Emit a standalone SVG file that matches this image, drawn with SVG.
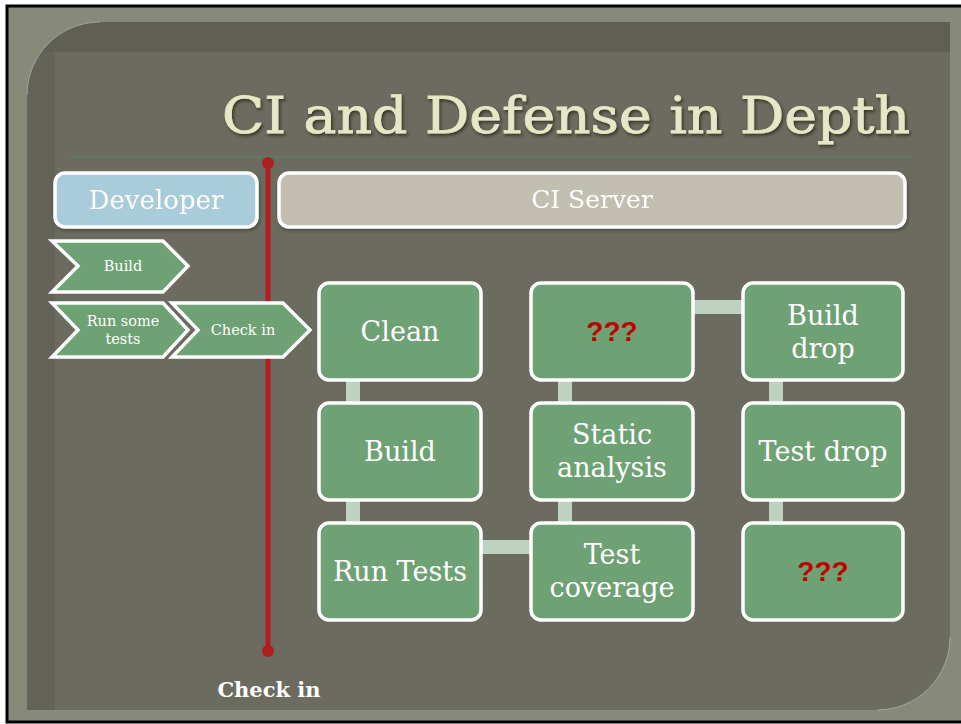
<svg xmlns="http://www.w3.org/2000/svg" width="961" height="724" viewBox="0 0 961 724">
<defs>
<style>
.box{fill:#6ea173;stroke:#ffffff;stroke-width:3.5}
.lbl{font-family:"DejaVu Serif","Liberation Serif",serif;fill:#ffffff;text-anchor:middle}
.big{font-size:27px}
.chev{fill:#6ea173;stroke:#ffffff;stroke-width:3.5;stroke-linejoin:miter}
.small{font-size:14.5px}
.q{font-family:"Liberation Sans",Arial,sans-serif;font-weight:bold;font-size:28px;fill:#c00000;text-anchor:middle}
.con{stroke:#bfd2c2;stroke-width:14;fill:none}
</style>
<filter id="sh" x="-10%" y="-10%" width="120%" height="130%">
<feDropShadow dx="1.5" dy="2" stdDeviation="1.5" flood-color="#222218" flood-opacity="0.75"/>
</filter>
<filter id="bsh" x="-5%" y="-10%" width="110%" height="130%">
<feDropShadow dx="1" dy="2" stdDeviation="1.5" flood-color="#2a2a22" flood-opacity="0.5"/>
</filter>
<clipPath id="panel">
<path d="M27,95 A73,73 0 0 1 100,22 L950,22 L950,637 A73,73 0 0 1 877,710 L27,710 Z"/>
</clipPath>
</defs>

<g id="background">
<rect x="0" y="0" width="961" height="724" fill="#ffffff"/>
<rect x="7" y="6" width="956" height="716" fill="#888a79" stroke="#000000" stroke-width="3"/>
<path d="M27,95 A73,73 0 0 1 100,22 L950,22 L950,637 A73,73 0 0 1 877,710 L27,710 Z" fill="#6b6b5f"/>
<g clip-path="url(#panel)">
<rect x="27" y="22" width="923" height="30" fill="#5f5f53"/>
<rect x="27" y="52" width="28" height="658" fill="#63635a"/>
</g>
<path d="M27,95 A73,73 0 0 1 100,22" fill="none" stroke="#a4a697" stroke-width="1"/>
<path d="M950,637 A73,73 0 0 1 877,710" fill="none" stroke="#a4a697" stroke-width="1"/>
</g>

<g id="title">
<text x="566" y="133" font-family="DejaVu Serif,'Liberation Serif',serif" font-size="50" fill="#e6e7c6" stroke="#e6e7c6" stroke-width="0.8" text-anchor="middle" textLength="688" lengthAdjust="spacingAndGlyphs" filter="url(#sh)">CI and Defense in Depth</text>
<line x1="69" y1="157" x2="910" y2="157" stroke="#5f7a62" stroke-width="2"/>
</g>

<g id="checkin-line">
<line x1="268" y1="163" x2="268" y2="651" stroke="#b01e1e" stroke-width="5"/>
<circle cx="268" cy="163" r="6" fill="#b01e1e"/>
<circle cx="268" cy="651" r="6" fill="#b01e1e"/>
<text x="269" y="697" font-family="DejaVu Serif,'Liberation Serif',serif" font-weight="bold" font-size="21" fill="#ffffff" text-anchor="middle">Check in</text>
</g>

<g id="developer" filter="url(#bsh)">
<rect x="55" y="173" width="202" height="54" rx="10" fill="#a8ccd9" stroke="#ffffff" stroke-width="3.5"/>
<text class="lbl" x="156" y="209" font-size="26">Developer</text>
</g>

<g id="ci-server" filter="url(#bsh)">
<rect x="279" y="173" width="626" height="54" rx="10" fill="#c2bfb1" stroke="#ffffff" stroke-width="3.5"/>
<text class="lbl" x="592" y="208" font-size="25">CI Server</text>
</g>

<g id="dev-build">
<path class="chev" d="M52,241 L163,241 L188,266 L163,292 L52,292 L78,266 Z"/>
<text class="lbl small" x="123" y="271">Build</text>
</g>
<g id="dev-run-tests">
<path class="chev" d="M52,303 L163,303 L188,330 L163,357 L52,357 L78,330 Z"/>
<text class="lbl small" x="123" y="326">Run some</text>
<text class="lbl small" x="123" y="344">tests</text>
</g>
<g id="dev-check-in">
<path class="chev" d="M172,303 L283,303 L310,330 L283,357 L172,357 L198,330 Z"/>
<text class="lbl small" x="243" y="335">Check in</text>
</g>

<g id="connectors">
<line class="con" x1="353" y1="380" x2="353" y2="403"/>
<line class="con" x1="353" y1="500" x2="353" y2="523"/>
<line class="con" x1="481" y1="547" x2="531" y2="547"/>
<line class="con" x1="565" y1="500" x2="565" y2="523"/>
<line class="con" x1="565" y1="380" x2="565" y2="403"/>
<line class="con" x1="693" y1="307" x2="743" y2="307"/>
<line class="con" x1="776" y1="380" x2="776" y2="403"/>
<line class="con" x1="776" y1="500" x2="776" y2="523"/>
</g>

<g id="clean">
<rect class="box" x="319" y="283" width="162" height="97" rx="10"/>
<text class="lbl big" x="400" y="341">Clean</text>
</g>
<g id="build">
<rect class="box" x="319" y="403" width="162" height="97" rx="10"/>
<text class="lbl big" x="400" y="461">Build</text>
</g>
<g id="run-tests">
<rect class="box" x="319" y="523" width="162" height="97" rx="10"/>
<text class="lbl big" x="400" y="581">Run Tests</text>
</g>
<g id="unknown-1">
<rect class="box" x="531" y="283" width="162" height="97" rx="10"/>
<text class="q" x="612" y="341">???</text>
</g>
<g id="static-analysis">
<rect class="box" x="531" y="403" width="162" height="97" rx="10"/>
<text class="lbl big" x="612" y="444">Static</text>
<text class="lbl big" x="612" y="477">analysis</text>
</g>
<g id="test-coverage">
<rect class="box" x="531" y="523" width="162" height="97" rx="10"/>
<text class="lbl big" x="612" y="564">Test</text>
<text class="lbl big" x="612" y="597">coverage</text>
</g>
<g id="build-drop">
<rect class="box" x="743" y="283" width="160" height="97" rx="10"/>
<text class="lbl big" x="823" y="325">Build</text>
<text class="lbl big" x="823" y="358">drop</text>
</g>
<g id="test-drop">
<rect class="box" x="743" y="403" width="160" height="97" rx="10"/>
<text class="lbl big" x="823" y="461">Test drop</text>
</g>
<g id="unknown-2">
<rect class="box" x="743" y="523" width="160" height="97" rx="10"/>
<text class="q" x="823" y="581">???</text>
</g>
</svg>
